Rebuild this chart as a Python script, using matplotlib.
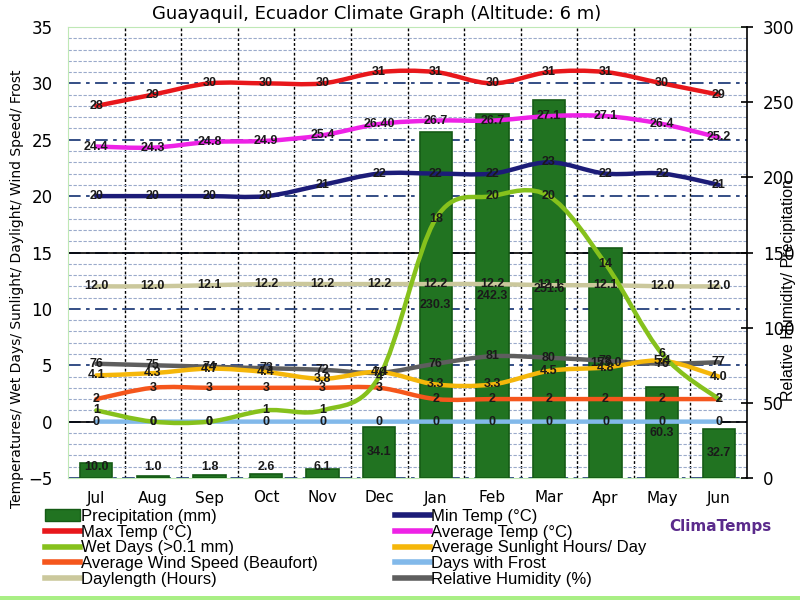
import numpy as np
import matplotlib
matplotlib.use('Agg')
import matplotlib.pyplot as plt
from matplotlib.path import Path
from matplotlib.patches import PathPatch, Patch, Rectangle
from matplotlib.lines import Line2D

# data (Jul .. Jun)
months = ['Jul', 'Aug', 'Sep', 'Oct', 'Nov', 'Dec', 'Jan', 'Feb', 'Mar', 'Apr', 'May', 'Jun']
precip = [10.0, 1.0, 1.8, 2.6, 6.1, 34.1, 230.3, 242.3, 251.6, 153.0, 60.3, 32.7]
max_temp = [28, 29, 30, 30, 30, 31, 31, 30, 31, 31, 30, 29]
min_temp = [20, 20, 20, 20, 21, 22, 22, 22, 23, 22, 22, 21]
avg_temp = [24.4, 24.3, 24.8, 24.9, 25.4, 26.4, 26.7, 26.7, 27.1, 27.1, 26.4, 25.2]
avg_labels = ['24.4', '24.3', '24.8', '24.9', '25.4', '26.40', '26.7', '26.7', '27.1', '27.1', '26.4', '25.2']
wet_days = [1, 0, 0, 1, 1, 4, 18, 20, 20, 14, 6, 2]
sunlight = [4.1, 4.3, 4.7, 4.4, 3.8, 4.4, 3.3, 3.3, 4.5, 4.8, 5.4, 4.0]
wind = [2, 3, 3, 3, 3, 3, 2, 2, 2, 2, 2, 2]
frost = [0, 0, 0, 0, 0, 0, 0, 0, 0, 0, 0, 0]
daylength = [12.0, 12.0, 12.1, 12.2, 12.2, 12.2, 12.2, 12.2, 12.1, 12.1, 12.0, 12.0]
humidity = [76, 75, 74, 73, 72, 70, 76, 81, 80, 78, 76, 77]

c_precip = '#217321'
c_max = '#e8171b'
c_min = '#1c1c78'
c_avg = '#ee22e6'
c_wet = '#86c11c'
c_sun = '#f5b70a'
c_wind = '#f5561c'
c_frost = '#82b9ea'
c_day = '#cbc89c'
c_hum = '#5e5e5e'

x = np.arange(len(months))


def smooth_line(ax, xs, ys, color, lw=3.2, z=3):
    # excel style smoothed line (bezier through the points)
    pts = np.column_stack([xs, ys]).astype(float)
    n = len(pts)
    verts = [pts[0]]
    codes = [Path.MOVETO]
    for i in range(n - 1):
        p0 = pts[max(i - 1, 0)]
        p1 = pts[i]
        p2 = pts[i + 1]
        p3 = pts[min(i + 2, n - 1)]
        verts += [p1 + (p2 - p0) / 6, p2 - (p3 - p1) / 6, p2]
        codes += [Path.CURVE4] * 3
    ax.add_patch(PathPatch(Path(verts, codes), fill=False, edgecolor=color,
                           lw=lw, capstyle='round', joinstyle='round', zorder=z))


fig = plt.figure(figsize=(8, 6), dpi=100)
pos = [68 / 800, 1 - 478 / 600, (747 - 68) / 800, (478 - 27) / 600]
ax = fig.add_axes(pos)
ax2 = ax.twinx()
ax3 = ax.twinx()

# base axes: grid + left ticks + months
ax.set_xlim(-0.5, 11.5)
ax.set_ylim(-5, 35)
ax.set_yticks(np.arange(-5, 36, 5))
ax.set_yticks(np.arange(-5, 36, 1), minor=True)
ax.set_xticks(x)
ax.set_xticklabels(months)
ax.set_xticks(np.arange(0.5, 11, 1), minor=True)
ax.yaxis.grid(True, which='minor', color='#9aaacb', ls=(0, (3, 1.5)), lw=0.8)
ax.yaxis.grid(True, which='major', color='#24407c', ls=(0, (7, 3, 2, 3)), lw=1.3)
ax.xaxis.grid(True, which='minor', color='black', ls=(0, (2, 1.5)), lw=1.0)
ax.axhline(15, color='black', lw=1.2, zorder=1)
ax.axhline(0, color='black', lw=1.2, zorder=1)
ax.tick_params(axis='both', which='both', length=0)
ax.tick_params(axis='y', labelsize=12, pad=11)
ax.tick_params(axis='x', labelsize=11, pad=9)
for s in ['left', 'top', 'bottom']:
    ax.spines[s].set_color('#bfe8b6')
ax.spines['right'].set_visible(False)
ax.set_axisbelow(True)

# right axes: precipitation + humidity
ax2.set_ylim(0, 300)
ax2.set_yticks(np.arange(0, 301, 50))
bars = ax2.bar(x, precip, width=0.57, color=c_precip, edgecolor='#155b15', lw=1.2, zorder=2)
smooth_line(ax2, x, humidity, c_hum, z=4)
ax2.tick_params(axis='y', direction='inout', length=9, width=1.2, labelsize=12, pad=7)
for s in ['left', 'top', 'bottom']:
    ax2.spines[s].set_visible(False)
ax2.spines['right'].set_color('black')
ax2.spines['right'].set_linewidth(1.2)

# top axes: the left scale lines
ax3.set_ylim(-5, 35)
ax3.yaxis.set_visible(False)
for s in ax3.spines.values():
    s.set_visible(False)

smooth_line(ax3, x, daylength, c_day)
smooth_line(ax3, x, frost, c_frost)
smooth_line(ax3, x, wind, c_wind)
smooth_line(ax3, x, sunlight, c_sun)
smooth_line(ax3, x, wet_days, c_wet)
smooth_line(ax3, x, min_temp, c_min)
smooth_line(ax3, x, avg_temp, c_avg)
smooth_line(ax3, x, max_temp, c_max)

lab = dict(ha='center', va='center', fontsize=9, fontweight='bold',
           color='#1a1a1a', family='Liberation Sans', zorder=10)
for i in range(len(months)):
    ax3.text(x[i], precip[i] / 2 if precip[i] > 14 else 7, f'{precip[i]:.1f}',
             transform=ax2.transData, **lab)
    ax3.text(x[i], humidity[i], f'{humidity[i]}', transform=ax2.transData, **lab)
    ax3.text(x[i], daylength[i], f'{daylength[i]:.1f}', **lab)
    ax3.text(x[i], frost[i], f'{frost[i]}', **lab)
    ax3.text(x[i], wind[i], f'{wind[i]}', **lab)
    ax3.text(x[i], sunlight[i], f'{sunlight[i]:.1f}', **lab)
    ax3.text(x[i], wet_days[i], f'{wet_days[i]}', **lab)
    ax3.text(x[i], min_temp[i], f'{min_temp[i]}', **lab)
    ax3.text(x[i], avg_temp[i], avg_labels[i], **lab)
    ax3.text(x[i], max_temp[i], f'{max_temp[i]}', **lab)

# titles
fig.text(377 / 800, 1 - 14 / 600, 'Guayaquil, Ecuador Climate Graph (Altitude: 6 m)',
         ha='center', va='center', fontsize=13)
fig.text(17 / 800, 1 - 289 / 600, 'Temperatures/ Wet Days/ Sunlight/ Daylight/ Wind Speed/ Frost',
         rotation=90, ha='center', va='center', fontsize=10)
fig.text(788 / 800, 1 - 290 / 600, 'Relative Humidity/ Precipitation',
         rotation=90, ha='center', va='center', fontsize=11.5, family='Liberation Sans')

# legends
lw_leg = 4
h1 = [Patch(facecolor=c_precip, edgecolor='#155b15'),
      Line2D([], [], color=c_max, lw=lw_leg),
      Line2D([], [], color=c_wet, lw=lw_leg),
      Line2D([], [], color=c_wind, lw=lw_leg),
      Line2D([], [], color=c_day, lw=lw_leg)]
l1 = ['Precipitation (mm)', 'Max Temp (°C)', 'Wet Days (>0.1 mm)',
      'Average Wind Speed (Beaufort)', 'Daylength (Hours)']
h2 = [Line2D([], [], color=c_min, lw=lw_leg),
      Line2D([], [], color=c_avg, lw=lw_leg),
      Line2D([], [], color=c_sun, lw=lw_leg),
      Line2D([], [], color=c_frost, lw=lw_leg),
      Line2D([], [], color=c_hum, lw=lw_leg)]
l2 = ['Min Temp (°C)', 'Average Temp (°C)', 'Average Sunlight Hours/ Day',
      'Days with Frost', 'Relative Humidity (%)']
leg_kw = dict(loc='upper left', frameon=False, handlelength=2.1, handletextpad=0.05,
              labelspacing=0.04, borderaxespad=0, borderpad=0,
              prop={'family': 'Liberation Sans', 'size': 12})
fig.legend(h1, l1, bbox_to_anchor=(45 / 800, 1 - 509 / 600), **leg_kw)
fig.legend(h2, l2, bbox_to_anchor=(395 / 800, 1 - 509 / 600), **leg_kw)

fig.text(720 / 800, 1 - 527 / 600, 'ClimaTemps', ha='center', va='center',
         fontsize=11, fontweight='bold', color='#5b2b8c')

# green strip at the bottom
fig.patches.append(Rectangle((0, 0), 1, 4 / 600, transform=fig.transFigure,
                             facecolor='#a9ef85', edgecolor='none'))

fig.savefig('out.png', dpi=100)
